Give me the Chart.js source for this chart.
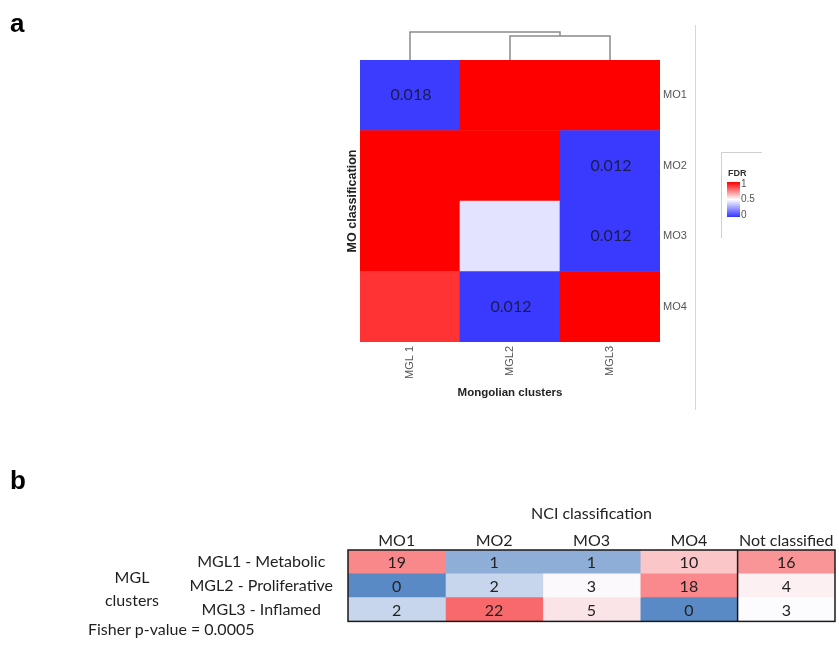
<!DOCTYPE html>
<html>
<head>
<meta charset="utf-8">
<script src="https://cdn.jsdelivr.net/npm/chart.js@4.4.1/dist/chart.umd.min.js"></script>
<style>
  html, body { margin: 0; padding: 0; background: #fff; }
  #wrap { position: relative; width: 839px; height: 646px; overflow: hidden; font-family: Lato, "Open Sans", sans-serif; }
  canvas { position: absolute; left: 0; }
  #cA { top: 0; }
  #cB { top: 460px; }
  .t { position: absolute; white-space: nowrap; color: #1f1f1f; font-size: 16px; line-height: 19px; }
  .panel { font: bold 26px "Liberation Sans", Arial, sans-serif; color: #000; }
</style>
</head>
<body>
<div id="wrap">
  <canvas id="cA" width="839" height="420"></canvas>
  <canvas id="cB" width="839" height="186"></canvas>
  <div class="t panel" style="left:10px;top:8px;">a</div>
  <div class="t panel" style="left:10px;top:465px;">b</div>
  <div class="t" style="left:132px;top:576px;transform:translate(-50%,-50%);">MGL</div>
  <div class="t" style="left:132px;top:599px;transform:translate(-50%,-50%);">clusters</div>
  <div class="t" style="left:88px;top:628px;transform:translateY(-50%);">Fisher p-value = 0.0005</div>
</div>
<script>
// ---------- panel a: FDR of the overlap between MO classes and Mongolian clusters ----------
const moRows = ['MO1', 'MO2', 'MO3', 'MO4'];
const mglCols = ['MGL 1', 'MGL2', 'MGL3'];
const fdrMO1 = [0.018, 1, 1];
const fdrMO2 = [1, 1, 0.012];
const fdrMO3 = [1, 0.43, 0.012];
const fdrMO4 = [0.9, 0.012, 1];
const fdrValues = [fdrMO1, fdrMO2, fdrMO3, fdrMO4];
const fdrLegendTicks = [0, 0.5, 1];
// column dendrogram: merge heights relative to the root
const dendroMerges = [
  { a: 1, b: 2, h: 0.86 },
  { a: 0, b: 'm0', h: 1.0 }
];

// ---------- panel b: contingency table MGL clusters x NCI classification ----------
const nciCols = ['MO1', 'MO2', 'MO3', 'MO4', 'Not classified'];
const mglRows = ['MGL1 - Metabolic', 'MGL2 - Proliferative', 'MGL3 - Inflamed'];
const countsMGL1 = [19, 1, 1, 10, 16];
const countsMGL2 = [0, 2, 3, 18, 4];
const countsMGL3 = [2, 22, 5, 0, 3];
// conditional-format shade per cell (-1 blue ... 0 white ... +1 red)
const shadeMGL1 = [0.79, -0.68, -0.68, 0.37, 0.70];
const shadeMGL2 = [-1, -0.33, 0.02, 0.78, 0.08];
const shadeMGL3 = [-0.33, 1, 0.16, -1, 0];

const countRows = [countsMGL1, countsMGL2, countsMGL3];
const shadeRows = [shadeMGL1, shadeMGL2, shadeMGL3];

const FA = '"Liberation Sans", Arial, sans-serif';
const FB = 'Lato, "Open Sans", sans-serif';

function mix(a, b, t) {
  return 'rgb(' + a.map((v, i) => Math.round(v + (b[i] - v) * t)).join(',') + ')';
}
// FDR colour scale: blue (0) - white (0.5) - red (1)
function fdrColor(v) {
  const lo = [53, 53, 255], mid = [255, 255, 255], hi = [255, 0, 0];
  return v < 0.5 ? mix(lo, mid, v / 0.5) : mix(mid, hi, (v - 0.5) / 0.5);
}
// spreadsheet-style 3-colour scale
function shadeColor(s) {
  const blue = [90, 138, 198], white = [252, 252, 255], red = [248, 105, 107];
  return s < 0 ? mix(white, blue, -s) : mix(white, red, s);
}

Chart.defaults.animation = false;

// ----- heatmap (panel a) -----
const rowOrder = [3, 2, 1, 0]; // stacked bottom-up, MO1 ends on top
const heatPlugin = {
  id: 'heatExtras',
  afterDatasetsDraw(chart) {
    const ctx = chart.ctx;
    ctx.save();
    ctx.font = '16px ' + FB;
    ctx.fillStyle = '#1b1b4d';
    ctx.textAlign = 'center';
    ctx.textBaseline = 'middle';
    chart.data.datasets.forEach((ds, di) => {
      const meta = chart.getDatasetMeta(di);
      ds.fdr.forEach((v, ci) => {
        if (v < 0.05) {
          const p = meta.data[ci].getCenterPoint();
          ctx.fillText(v.toFixed(3), p.x + 1, p.y);
        }
      });
    });
    ctx.restore();
  },
  afterDraw(chart) {
    const ctx = chart.ctx;
    const ca = chart.chartArea;
    const xs = chart.scales.x;
    ctx.save();
    // dendrogram over the columns
    const px = 28;
    const nodes = {};
    const nodePos = k => (typeof k === 'number')
      ? { x: xs.getPixelForValue(k), y: ca.top }
      : nodes[k];
    ctx.strokeStyle = '#8a8a8a';
    ctx.lineWidth = 1.5;
    dendroMerges.forEach((m, i) => {
      const A = nodePos(m.a), B = nodePos(m.b);
      const y = ca.top - m.h * px;
      ctx.beginPath();
      ctx.moveTo(A.x, A.y);
      ctx.lineTo(A.x, y);
      ctx.lineTo(B.x, y);
      ctx.lineTo(B.x, B.y);
      ctx.stroke();
      nodes['m' + i] = { x: (A.x + B.x) / 2, y: y };
    });
    // panel separator
    ctx.strokeStyle = '#d6d6d6';
    ctx.lineWidth = 1;
    ctx.beginPath();
    ctx.moveTo(695.5, 25);
    ctx.lineTo(695.5, 410);
    ctx.stroke();
    // colour key
    ctx.strokeStyle = '#cfcfcf';
    ctx.beginPath();
    ctx.moveTo(721.5, 238);
    ctx.lineTo(721.5, 152.5);
    ctx.lineTo(762, 152.5);
    ctx.stroke();
    ctx.fillStyle = '#333';
    ctx.font = 'bold 9px ' + FA;
    ctx.textAlign = 'left';
    ctx.textBaseline = 'middle';
    ctx.fillText('FDR', 728, 174);
    const kTop = 182, kBot = 217;
    const g = ctx.createLinearGradient(0, kBot, 0, kTop);
    g.addColorStop(0, fdrColor(0));
    g.addColorStop(0.5, fdrColor(0.5));
    g.addColorStop(1, fdrColor(1));
    ctx.fillStyle = g;
    ctx.fillRect(727, kTop, 13, kBot - kTop);
    ctx.fillStyle = '#555';
    ctx.font = '10px ' + FA;
    fdrLegendTicks.forEach(v => {
      const y = (kBot - 2) - v * (kBot - kTop - 4);
      ctx.fillText(String(v), 741, y);
    });
    ctx.restore();
  }
};

new Chart(document.getElementById('cA'), {
  type: 'bar',
  data: {
    labels: mglCols,
    datasets: rowOrder.map(r => ({
      label: moRows[r],
      data: mglCols.map(() => 1),
      fdr: fdrValues[r],
      backgroundColor: fdrValues[r].map(fdrColor),
      borderWidth: 0,
      barPercentage: 1,
      categoryPercentage: 1,
      stack: 'cells'
    }))
  },
  options: {
    responsive: false,
    maintainAspectRatio: false,
    layout: { padding: { left: 330, right: 0, top: 60, bottom: 0 } },
    plugins: { legend: { display: false }, tooltip: { enabled: false } },
    scales: {
      x: {
        type: 'category',
        stacked: true,
        offset: true,
        grid: { display: false, drawTicks: false },
        border: { display: false },
        ticks: { color: '#555', font: { family: FA, size: 11 }, minRotation: 90, maxRotation: 90, padding: 4, autoSkip: false },
        title: { display: true, text: 'Mongolian clusters', color: '#222', font: { family: FA, size: 11.5, weight: 'bold' }, padding: { top: 0, bottom: 20 } },
        afterFit: s => { s.height = 420 - 342; }
      },
      y: {
        type: 'linear',
        position: 'right',
        stacked: true,
        min: 0,
        max: 4,
        grid: { display: false, drawTicks: false },
        border: { display: false },
        afterBuildTicks: s => { s.ticks = moRows.map((_, i) => ({ value: i + 0.5 })); },
        ticks: { callback: v => moRows[moRows.length - 1 - Math.floor(v)], color: '#555', font: { family: FA, size: 11 }, padding: 3, autoSkip: false },
        afterFit: s => { s.width = 839 - 660; }
      },
      yTitle: {
        type: 'linear',
        position: 'left',
        grid: { display: false, drawTicks: false },
        border: { display: false },
        ticks: { display: false },
        title: { display: true, text: 'MO classification', color: '#222', font: { family: FA, size: 12.5, weight: 'bold' }, padding: { top: 15, bottom: 0 } },
        afterFit: s => { s.width = 30; }
      }
    }
  },
  plugins: [heatPlugin]
});

// ----- table (panel b) -----
const tablePlugin = {
  id: 'tableExtras',
  afterDatasetsDraw(chart) {
    const ctx = chart.ctx;
    const ca = chart.chartArea;
    ctx.save();
    ctx.font = '16px ' + FB;
    ctx.fillStyle = '#222';
    ctx.textAlign = 'center';
    ctx.textBaseline = 'middle';
    chart.data.datasets.forEach((ds, di) => {
      const meta = chart.getDatasetMeta(di);
      ds.counts.forEach((c, ri) => {
        const p = meta.data[ri].getCenterPoint();
        ctx.fillText(String(c), p.x, p.y + 1);
      });
    });
    ctx.strokeStyle = '#1a1a1a';
    ctx.lineWidth = 1.5;
    ctx.strokeRect(ca.left, ca.top, ca.right - ca.left, ca.bottom - ca.top);
    const xSep = chart.scales.x.getPixelForValue(nciCols.length - 1);
    ctx.beginPath();
    ctx.moveTo(xSep, ca.top);
    ctx.lineTo(xSep, ca.bottom);
    ctx.stroke();
    ctx.restore();
  }
};

new Chart(document.getElementById('cB'), {
  type: 'bar',
  data: {
    labels: mglRows,
    datasets: nciCols.map((c, ci) => ({
      label: c,
      data: mglRows.map(() => 1),
      counts: countRows.map(row => row[ci]),
      backgroundColor: shadeRows.map(row => shadeColor(row[ci])),
      borderWidth: 0,
      barPercentage: 1,
      categoryPercentage: 1,
      stack: 'table'
    }))
  },
  options: {
    indexAxis: 'y',
    responsive: false,
    maintainAspectRatio: false,
    layout: { padding: { left: 0, right: 4, top: 0, bottom: 23 } },
    plugins: { legend: { display: false }, tooltip: { enabled: false } },
    scales: {
      x: {
        type: 'linear',
        position: 'top',
        stacked: true,
        min: 0,
        max: nciCols.length,
        grid: { display: false, drawTicks: false },
        border: { display: false },
        afterBuildTicks: s => { s.ticks = nciCols.map((_, i) => ({ value: i + 0.5 })); },
        ticks: { callback: v => nciCols[Math.floor(v)], color: '#222', font: { family: FB, size: 16 }, padding: 0, maxRotation: 0, autoSkip: false },
        title: { display: true, text: 'NCI classification', color: '#222', font: { family: FB, size: 16 }, padding: { top: 44, bottom: 0 } },
        afterFit: s => { s.height = 90; }
      },
      y: {
        type: 'category',
        stacked: true,
        offset: true,
        grid: { display: false, drawTicks: false },
        border: { display: false },
        ticks: { color: '#222', font: { family: FB, size: 16 }, crossAlign: 'center', padding: 15, autoSkip: false },
        afterFit: s => { s.width = 348; }
      }
    }
  },
  plugins: [tablePlugin]
});
</script>
</body>
</html>
